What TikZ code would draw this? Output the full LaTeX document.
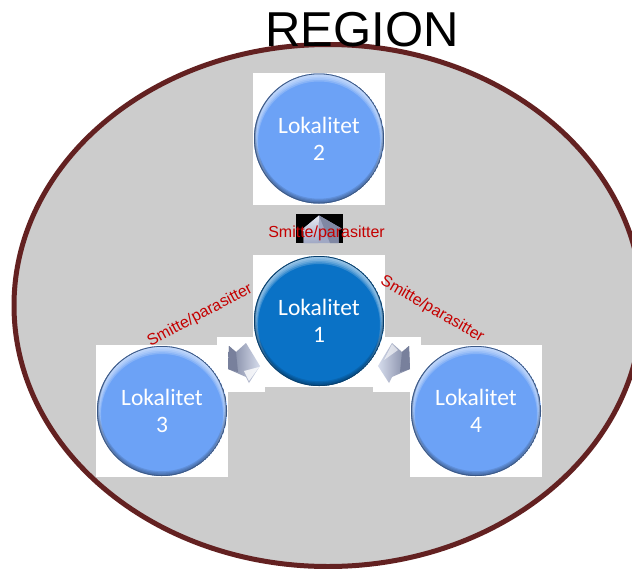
\documentclass[tikz,border=0pt]{standalone}
\usepackage{fontspec}
\setmainfont{Liberation Sans}
\newfontfamily\lokfont{Carlito}
\usetikzlibrary{calc}

\definecolor{regionfill}{RGB}{204,204,204}
\definecolor{regionline}{RGB}{99,33,33}
\definecolor{lokblue}{RGB}{108,162,246}
\definecolor{lokdark}{RGB}{10,114,198}
\definecolor{infect}{RGB}{196,0,0}
\definecolor{arrowlight}{RGB}{214,220,236}
\definecolor{arrowmid}{RGB}{160,168,196}
\definecolor{arrowdark}{RGB}{120,128,156}

\begin{document}
\begin{tikzpicture}[x=1pt,y=-1pt,
  lok/.style={circle,minimum size=130pt,inner sep=0pt,text=white,align=center,
    font=\lokfont\fontsize{23.5}{27}\selectfont,fill=#1,
    path picture={
      \coordinate (pc) at (path picture bounding box.center);
      % bevelled rim, built up from thin crescents: light at the top ...
      \foreach \s in {0.8,1.6,2.4,3.2,4.0}
        \fill[#1!15!white,opacity=0.22,even odd rule]
          (pc) circle (65pt) ($(pc)+(0,\s)$) circle ({65-\s});
      % ... and darker at the bottom
      \foreach \s in {0.6,1.2,1.8,2.4}
        \fill[#1!45!black,opacity=0.2,even odd rule]
          (pc) circle (65pt) ($(pc)+(0,-\s)$) circle ({65-\s});
      \draw[#1!55!black,line width=0.8pt] (pc) circle (64.6pt);
    }},
  backsq/.style={fill=white},
  infectlabel/.style={text=infect,font=\fontsize{16}{19}\selectfont,inner sep=0pt,anchor=base},
  arrowbody/.style={left color=arrowdark,right color=arrowlight}
]
\useasboundingbox (0,0) rectangle (632,568);
\clip (0,0) rectangle (632,568);

% the region
\draw[fill=regionfill,draw=regionline,line width=5pt] (328,305.5) ellipse [x radius=314,y radius=261];

% circle centres
\coordinate (c1) at (319,321);
\coordinate (c2) at (319,138.5);
\coordinate (c3) at (162,411);
\coordinate (c4) at (476,411);

% white backing squares
\foreach \c in {c1,c2,c3,c4}
  \fill[backsq] ($(\c)+(-66,-66)$) rectangle ($(\c)+(66,66)$);

% backing boxes of the arrows
\fill[black] (296,214) rectangle (343,243);
\fill[backsq] (217,337) rectangle (265,392);
\fill[backsq] (373,337) rectangle (421,392);

% sites
\node[lok=lokdark] (lok1) at (c1) {Lokalitet\\1};
\node[lok=lokblue] (lok2) at (c2) {Lokalitet\\2};
\node[lok=lokblue] (lok3) at (c3) {Lokalitet\\3};
\node[lok=lokblue] (lok4) at (c4) {Lokalitet\\4};

% arrow towards site 2
\coordinate (uptip) at (319,215.5);
\fill[arrowmid] (uptip) -- (341.5,228.5) -- (338.5,230) -- (338.5,243) -- (303.5,243)
  -- (303.5,231) -- (301.5,230) -- cycle;
\shade[top color=arrowlight!60!white,bottom color=arrowmid] (uptip) -- (301.5,230) -- (303.5,231)
  -- (303.5,243) -- (318,243) -- cycle;
\fill[arrowdark!80!arrowmid] (uptip) -- (341.5,228.5) -- (338.5,230) -- (338.5,243) -- (330,243) -- cycle;

% arrow towards site 3
\shade[arrowbody] (229,346) -- (236,352) -- (246,343) -- (260,366) -- (249,383) -- (246,377)
  -- (228,369) -- cycle;
\fill[arrowdark] (229,346) -- (236,352) -- (238,372) -- (228,369) -- cycle;
\fill[white,opacity=0.8] (244,371) -- (259,367) -- (249,381) -- cycle;

% arrow towards site 4
\shade[left color=arrowlight,right color=arrowdark] (409,346) -- (402,352) -- (392,343) -- (378,366)
  -- (389,383) -- (392,377) -- (410,369) -- cycle;
\fill[arrowdark] (409,346) -- (402,352) -- (400,372) -- (410,369) -- cycle;
\fill[white,opacity=0.6] (392,344) -- (398,350) -- (384,360) -- cycle;

% infection pathways
\node[infectlabel] (lab12) at (326.5,237.5) {Smitte/parasitter};
\node[infectlabel,rotate=28] (lab13) at (202,319) {Smitte/parasitter};
\node[infectlabel,rotate=-30] (lab14) at (430,313) {Smitte/parasitter};

% heading
\node[anchor=base,inner sep=0pt,font=\fontsize{49}{55}\selectfont] (title) at (362,46) {REGION};
\end{tikzpicture}
\end{document}
